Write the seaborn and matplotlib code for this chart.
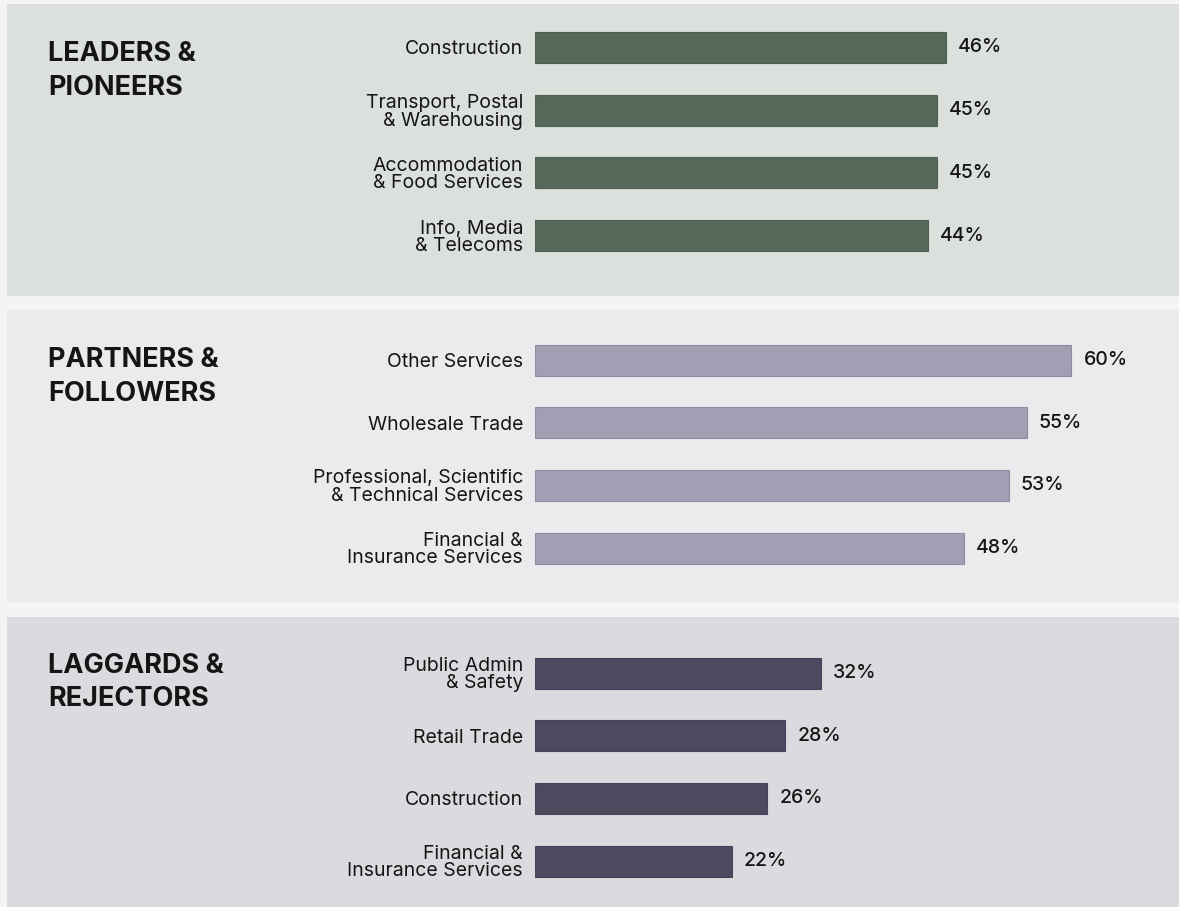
import matplotlib
matplotlib.use("Agg")
import matplotlib.pyplot as plt
from matplotlib.patches import Rectangle
import seaborn as sns
import pandas as pd

# ---- data -------------------------------------------------------------
group_titles = ["LEADERS &\nPIONEERS", "PARTNERS &\nFOLLOWERS", "LAGGARDS &\nREJECTORS"]

leaders_industries = ["Construction", "Transport, Postal\n& Warehousing",
                      "Accommodation\n& Food Services", "Info, Media\n& Telecoms"]
leaders_share = [46, 45, 45, 44]

partners_industries = ["Other Services", "Wholesale Trade",
                       "Professional, Scientific\n& Technical Services",
                       "Financial &\nInsurance Services"]
partners_share = [60, 55, 53, 48]

laggards_industries = ["Public Admin\n& Safety", "Retail Trade", "Construction",
                       "Financial &\nInsurance Services"]
laggards_share = [32, 28, 26, 22]

groups = [
    (leaders_industries, leaders_share),
    (partners_industries, partners_share),
    (laggards_industries, laggards_share),
]

# ---- style ------------------------------------------------------------
panel_colors = ["#dce0dc", "#ebebee", "#dbdbdf"]
bar_colors = ["#56685a", "#a29fb4", "#4c4a5e"]
edge_colors = ["#4f6053", "#8f8ca2", "#46445a"]
page_color = "#f4f4f4"
ink = "#151515"

W, H, DPI = 1179, 907, 100
sns.set_theme(style="white")
plt.rcParams["font.family"] = ["Inter", "DejaVu Sans"]

# layout in pixels
panel_spans = [(4, 296), (310, 602), (617, 907)]
first_bar_center = [47.5, 360.0, 673.0]
row_step = 62.7
bar_px = 31.0
bar_left_px = 535.0
px_per_pct = 8.94
title_baselines = [(61, 95), (367, 401), (673, 706)]
title_x = 48


def fx(px):
    return px / W


def fy(py):
    return 1 - py / H


fig = plt.figure(figsize=(W / DPI, H / DPI), dpi=DPI, facecolor=page_color)
pt = DPI / 72.0  # pixels per point

for i, (names, shares) in enumerate(groups):
    top, bottom = panel_spans[i]
    fig.patches.append(Rectangle((fx(7), fy(bottom)), 1 - fx(7), (bottom - top) / H,
                                 transform=fig.transFigure, facecolor=panel_colors[i],
                                 edgecolor="none", zorder=-5))

    ax_top = first_bar_center[i] - row_step / 2
    ax_h = row_step * len(names)
    ax = fig.add_axes([fx(bar_left_px), fy(ax_top + ax_h), 1 - fx(bar_left_px), ax_h / H])
    ax.patch.set_alpha(0)

    df = pd.DataFrame({"industry": names, "share": shares})
    sns.barplot(data=df, x="share", y="industry", ax=ax, color=bar_colors[i],
                saturation=1, width=bar_px / row_step,
                edgecolor=edge_colors[i], linewidth=0.8)

    ax.set_xlim(0, (W - bar_left_px) / px_per_pct)
    ax.set_ylim(len(names) - 0.5, -0.5)
    ax.set_xlabel("")
    ax.set_ylabel("")
    ax.set_xticks([])
    sns.despine(ax=ax, left=True, bottom=True)
    ax.tick_params(axis="y", length=0, pad=12 / pt, labelsize=14, labelcolor=ink)
    for lab in ax.get_yticklabels():
        lab.set_linespacing(0.95)

    ax.bar_label(ax.containers[0], labels=[f"{v}%" for v in shares],
                 padding=12 / pt, fontsize=14, fontweight="medium", color=ink)

    for line, base in zip(group_titles[i].split("\n"), title_baselines[i]):
        fig.text(fx(title_x), fy(base), line, ha="left", va="baseline",
                 fontsize=19.5, fontweight="bold", color=ink)

fig.savefig("out.png", dpi=DPI, facecolor=page_color)
